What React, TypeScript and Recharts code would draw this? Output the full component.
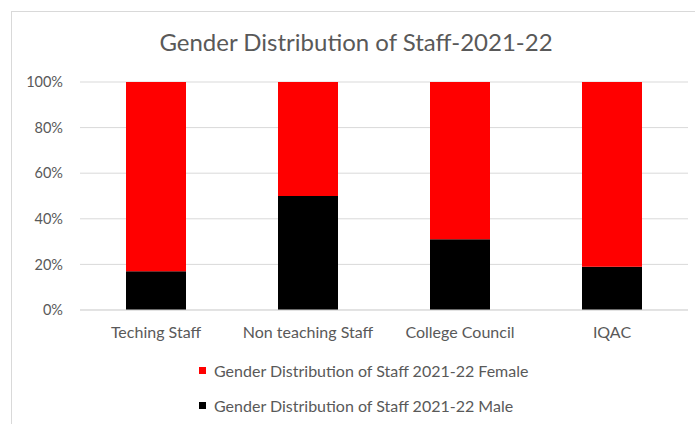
import { BarChart, Bar, XAxis, YAxis, CartesianGrid, Legend } from "recharts";

// 100% stacked columns (percent of staff)
const categories = ["Teching Staff", "Non teaching Staff", "College Council", "IQAC"];
const maleShare = [17, 50, 31, 19];
const femaleShare = [83, 50, 69, 81];
const yTicks = [0, 20, 40, 60, 80, 100];

const seriesNames = {
  female: "Gender Distribution of Staff 2021-22 Female",
  male: "Gender Distribution of Staff 2021-22 Male",
};

const FONT = "Lato, 'Open Sans', sans-serif";
const TEXT = "#595959";

const data = categories.map((name, i) => ({
  name,
  male: maleShare[i],
  female: femaleShare[i],
}));

// legend order as in the original: female first, then male
const legendItems = [
  { label: seriesNames.female, color: "#ff0000" },
  { label: seriesNames.male, color: "#000000" },
];

function LegendBox() {
  return (
    <div style={{ fontFamily: FONT, fontSize: 16, color: TEXT }}>
      {legendItems.map((item) => (
        <div
          key={item.label}
          style={{ display: "flex", alignItems: "center", height: 34.7, whiteSpace: "nowrap" }}
        >
          <span style={{ width: 7, height: 7, background: item.color, marginRight: 8, display: "inline-block" }} />
          <span>{item.label}</span>
        </div>
      ))}
    </div>
  );
}

export default function App() {
  return (
    <div style={{ position: "absolute", left: 0, top: 0, width: 695, height: 424, overflow: "hidden", background: "#fff" }}>
      {/* chart area frame, runs off the right and bottom edge */}
      <div
        style={{
          position: "absolute",
          left: 11,
          top: 11,
          width: 720,
          height: 460,
          border: "1px solid #d9d9d9",
        }}
      />
      <div
        style={{
          position: "absolute",
          left: 0,
          width: 712,
          top: 28,
          textAlign: "center",
          fontFamily: FONT,
          fontSize: 24,
          lineHeight: "28.8px",
          color: TEXT,
        }}
      >
        Gender Distribution of Staff-2021-22
      </div>
      <div style={{ position: "absolute", left: 0, top: 0 }}>
        <BarChart
          width={695}
          height={424}
          data={data}
          margin={{ top: 82, right: 7, left: 0, bottom: 84 }}
        >
          <CartesianGrid vertical={false} stroke="#d9d9d9" />
          <XAxis
            dataKey="name"
            height={30}
            axisLine={{ stroke: "#d9d9d9" }}
            tickLine={false}
            tickSize={0}
            tickMargin={17}
            tick={{ fill: TEXT, fontSize: 16, fontFamily: FONT }}
          />
          <YAxis
            width={80}
            domain={[0, 100]}
            ticks={yTicks}
            tickFormatter={(v: number) => `${v}%`}
            axisLine={false}
            tickLine={false}
            tickSize={0}
            tickMargin={17}
            tick={{ fill: TEXT, fontSize: 14.5, fontFamily: FONT }}
          />
          <Legend
            layout="vertical"
            align="center"
            verticalAlign="middle"
            content={() => <LegendBox />}
            wrapperStyle={{ left: 199, top: 353.6, width: "auto", height: "auto" }}
          />
          <Bar dataKey="male" name={seriesNames.male} stackId="a" fill="#000000" barSize={60} isAnimationActive={false} />
          <Bar dataKey="female" name={seriesNames.female} stackId="a" fill="#ff0000" barSize={60} isAnimationActive={false} />
        </BarChart>
      </div>
    </div>
  );
}
